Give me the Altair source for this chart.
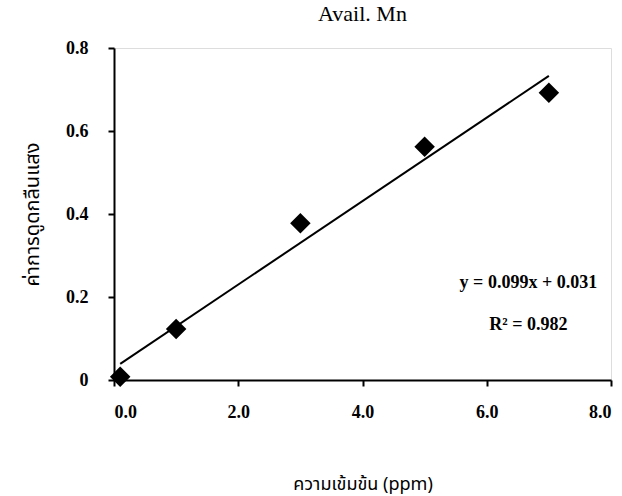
import altair as alt
import pandas as pd

# Data
conc = [0.1, 1.0, 3.0, 5.0, 7.0]
absorb = [0.008, 0.123, 0.378, 0.562, 0.692]

eq_text = ["y = 0.099x + 0.031", "R² = 0.982"]
eq_x = [6.67, 6.67]
eq_y = [0.234, 0.133]

x_ticks = [0, 2, 4, 6, 8]
y_ticks = [0, 0.2, 0.4, 0.6, 0.8]

df = pd.DataFrame({"x": conc, "y": absorb})
ann = pd.DataFrame({"x": eq_x, "y": eq_y, "t": eq_text})

SERIF = "Liberation Serif"
THAI = "Noto Sans Thai, Noto Sans, DejaVu Sans, sans-serif"

xscale = alt.Scale(domain=[0, 8], nice=False, zero=True)
yscale = alt.Scale(domain=[0, 0.8], nice=False, zero=True)

xaxis = alt.Axis(
    values=x_ticks, format=".1f", grid=False,
    title="ความเข้มข้น (ppm)", titleFont=THAI, titleFontSize=18, titleFontWeight="normal",
    titleColor="black", titleY=104, titleBaseline="middle",
    labelFont=SERIF, labelFontSize=18, labelFontWeight="bold", labelColor="black",
    labelPadding=17, tickSize=6, tickWidth=2, tickColor="black",
    domainColor="black", domainWidth=2,
)
yaxis = alt.Axis(
    values=y_ticks, grid=False,
    labelExpr="datum.value == 0 ? '0' : format(datum.value, '.1f')",
    title="ค่าการดูดกลืนแสง", titleFont=THAI, titleFontSize=20, titleFontWeight="normal",
    titleColor="black", titleX=-82, titleY=166, titleAngle=270, titleAlign="center",
    titleBaseline="middle",
    labelFont=SERIF, labelFontSize=18, labelFontWeight="bold", labelColor="black",
    labelPadding=20, tickSize=6, tickWidth=2, tickColor="black",
    domainColor="black", domainWidth=2,
)

base = alt.Chart(df)

points = base.mark_point(shape="diamond", filled=True, color="black", size=420, opacity=1).encode(
    x=alt.X("x:Q", scale=xscale, axis=xaxis),
    y=alt.Y("y:Q", scale=yscale, axis=yaxis),
)

trend = base.transform_regression("x", "y").mark_line(color="black", strokeWidth=2).encode(
    x=alt.X("x:Q", scale=xscale),
    y=alt.Y("y:Q", scale=yscale),
)

text = alt.Chart(ann).mark_text(font=SERIF, fontSize=18, fontWeight="bold", color="black",
                                align="center", baseline="middle").encode(
    x=alt.X("x:Q", scale=xscale),
    y=alt.Y("y:Q", scale=yscale),
    text="t:N",
)

chart = (trend + points + text).properties(
    width=497, height=332,
    title=alt.TitleParams("Avail. Mn", font=SERIF, fontSize=22, fontWeight="normal",
                          color="black", anchor="middle", offset=13),
    autosize=alt.AutoSizeParams(type="none"),
    padding={"left": 114, "top": 48, "right": 11, "bottom": 116},
).configure_view(stroke=None).configure(background="white")

chart.save("out.html", embed_options={"renderer": "svg", "actions": False})
